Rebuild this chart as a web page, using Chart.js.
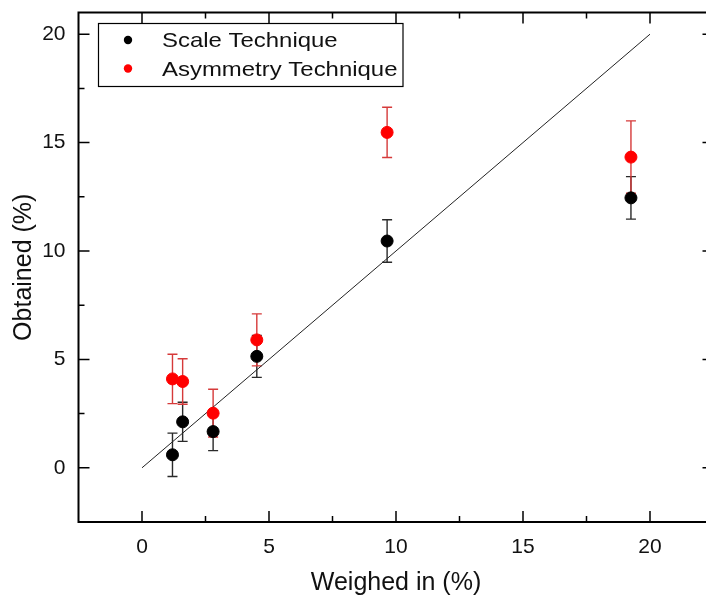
<!DOCTYPE html>
<html><head><meta charset="utf-8">
<script src="https://cdn.jsdelivr.net/npm/chart.js@4.4.0/dist/chart.umd.min.js"></script>
<style>
html,body{margin:0;padding:0;background:#fff;overflow:hidden;width:706px;height:599px}
#wrap{width:706px;height:599px;overflow:hidden;position:relative}
canvas{display:block}
</style></head>
<body><div id="wrap"><canvas id="c" width="706" height="599"></canvas></div>
<script>
// ---- data ----
const weighedIn     = [1.2, 1.6, 2.8, 4.52, 9.65, 19.25];
const scaleObtained = [0.6, 2.12, 1.67, 5.14, 10.46, 12.45];
const scaleError    = [1.0, 0.9, 0.88, 0.97, 0.98, 0.98];
const asymObtained  = [4.1, 3.98, 2.52, 5.9, 15.47, 14.33];
const asymError     = [1.14, 1.05, 1.1, 1.2, 1.16, 1.67];
const refLineX = [0, 20];
const refLineY = [0, 20];
const xTicks = [0, 5, 10, 15, 20];
const yTicks = [0, 5, 10, 15, 20];
const seriesLabels = ['Scale Technique', 'Asymmetry Technique'];
const xTitle = 'Weighed in (%)';
const yTitle = 'Obtained (%)';

const toPts = (xs, ys) => xs.map((x, i) => ({x: x, y: ys[i]}));
const mids = t => t.slice(1).map((v, i) => (v + t[i]) / 2);

// the plot frame of the original continues past the right edge of the picture
const PLOT_RIGHT = 713.5;
const extendPlot = {
  id: 'extendPlot',
  afterLayout(chart) {
    const x = chart.scales.x;
    x.right = PLOT_RIGHT;
    x.width = x.right - x.left;
    x.configure();
    x._labelItems = null;
    chart.chartArea.right = PLOT_RIGHT;
    chart.chartArea.width = PLOT_RIGHT - chart.chartArea.left;
  }
};

const errorBars = {
  id: 'errorBars',
  beforeDatasetsDraw(chart) {
    const ctx = chart.ctx, xs = chart.scales.x, ys = chart.scales.y;
    chart.data.datasets.forEach(ds => {
      if (!ds.errors) return;
      ctx.save();
      ctx.strokeStyle = ds.errorColor;
      ctx.lineWidth = 1.4;
      ds.data.forEach((p, i) => {
        const e = ds.errors[i];
        const px = xs.getPixelForValue(p.x);
        const y1 = ys.getPixelForValue(p.y + e), y2 = ys.getPixelForValue(p.y - e);
        ctx.beginPath();
        ctx.moveTo(px, y1); ctx.lineTo(px, y2);
        ctx.moveTo(px - 5, y1); ctx.lineTo(px + 5, y1);
        ctx.moveTo(px - 5, y2); ctx.lineTo(px + 5, y2);
        ctx.stroke();
      });
      ctx.restore();
    });
  }
};

const frame = {
  id: 'frame',
  afterDatasetsDraw(chart) {
    const ctx = chart.ctx, a = chart.chartArea, xs = chart.scales.x, ys = chart.scales.y;
    ctx.save();
    ctx.strokeStyle = '#000';
    ctx.lineWidth = 1.5;
    const tick = (vals, len) => {
      vals.forEach(v => {
        const px = xs.getPixelForValue(v);
        ctx.beginPath();
        ctx.moveTo(px, a.bottom); ctx.lineTo(px, a.bottom - len);
        ctx.moveTo(px, a.top); ctx.lineTo(px, a.top + len);
        ctx.stroke();
      });
    };
    const tickY = (vals, len) => {
      vals.forEach(v => {
        const py = ys.getPixelForValue(v);
        ctx.beginPath();
        ctx.moveTo(a.left, py); ctx.lineTo(a.left + len, py);
        ctx.moveTo(a.right, py); ctx.lineTo(a.right - len, py);
        ctx.stroke();
      });
    };
    tick(xTicks, 11); tick(mids(xTicks), 6);
    tickY(yTicks, 11); tickY(mids(yTicks), 6);
    ctx.lineWidth = 2;
    ctx.strokeRect(a.left, a.top, a.right - a.left, a.bottom - a.top);
    ctx.restore();
  }
};

const legendBox = {
  id: 'legendBox',
  afterDraw(chart) {
    const ctx = chart.ctx;
    const items = chart.data.datasets.filter(d => d.inLegend);
    const bx = 98.5, by = 23.5, bw = 304.5, bh = 63;
    ctx.save();
    ctx.fillStyle = '#fff';
    ctx.fillRect(bx, by, bw, bh);
    ctx.strokeStyle = '#000';
    ctx.lineWidth = 1.2;
    ctx.strokeRect(bx, by, bw, bh);
    items.forEach((d, i) => {
      const cy = 40 + i * 28.5;
      ctx.fillStyle = d.backgroundColor;
      ctx.beginPath(); ctx.arc(128, cy, 4.2, 0, Math.PI * 2); ctx.fill();
      ctx.fillStyle = '#111';
      ctx.font = '21px "Liberation Sans", Arial, sans-serif';
      ctx.textBaseline = 'alphabetic';
      ctx.save();
      ctx.translate(162, cy + 7.3);
      ctx.scale(1.14, 1);
      ctx.fillText(d.label, 0, 0);
      ctx.restore();
    });
    ctx.restore();
  }
};

new Chart(document.getElementById('c'), {
  type: 'scatter',
  data: {
    datasets: [
      { label: seriesLabels[0], inLegend: true, data: toPts(weighedIn, scaleObtained), errors: scaleError,
        backgroundColor: '#000', borderColor: '#000', errorColor: '#2a2a2a', pointRadius: 6, pointHoverRadius: 6 },
      { label: seriesLabels[1], inLegend: true, data: toPts(weighedIn, asymObtained), errors: asymError,
        backgroundColor: '#ff0000', borderColor: '#ff0000', errorColor: '#d63a3a', pointRadius: 6, pointHoverRadius: 6 },
      { type: 'line', label: 'y = x', data: toPts(refLineX, refLineY), borderColor: '#222', borderWidth: 1,
        pointRadius: 0, fill: false, showLine: true }
    ]
  },
  options: {
    responsive: false, animation: false,
    layout: { padding: { top: 12.5, right: 0, left: 0, bottom: 0 } },
    plugins: { legend: { display: false }, tooltip: { enabled: false } },
    scales: {
      x: {
        type: 'linear', min: -2.5, max: 22.5,
        afterBuildTicks: s => { s.ticks = xTicks.map(v => ({value: v})); },
        afterFit: s => { s.height = 77; s.paddingLeft = 0; s.paddingRight = 0; },
        grid: { display: false, drawTicks: false }, border: { display: false },
        ticks: { color: '#111', padding: 13, font: { size: 21, family: '"Liberation Sans", Arial, sans-serif' } },
        title: { display: true, text: xTitle, color: '#111', padding: { top: 0, bottom: 3 },
                 font: { size: 25, lineHeight: 1, family: '"Liberation Sans", Arial, sans-serif' } }
      },
      y: {
        type: 'linear', min: -2.5, max: 21,
        afterBuildTicks: s => { s.ticks = yTicks.map(v => ({value: v})); },
        afterFit: s => { s.width = 78.5; s.paddingTop = 0; s.paddingBottom = 0; },
        grid: { display: false, drawTicks: false }, border: { display: false },
        ticks: { color: '#111', padding: 13, font: { size: 21, family: '"Liberation Sans", Arial, sans-serif' } },
        title: { display: true, text: yTitle, color: '#111', padding: { top: 12, bottom: 0 },
                 font: { size: 25, lineHeight: 1, family: '"Liberation Sans", Arial, sans-serif' } }
      }
    }
  },
  plugins: [extendPlot, errorBars, frame, legendBox]
});
</script>
</body></html>
